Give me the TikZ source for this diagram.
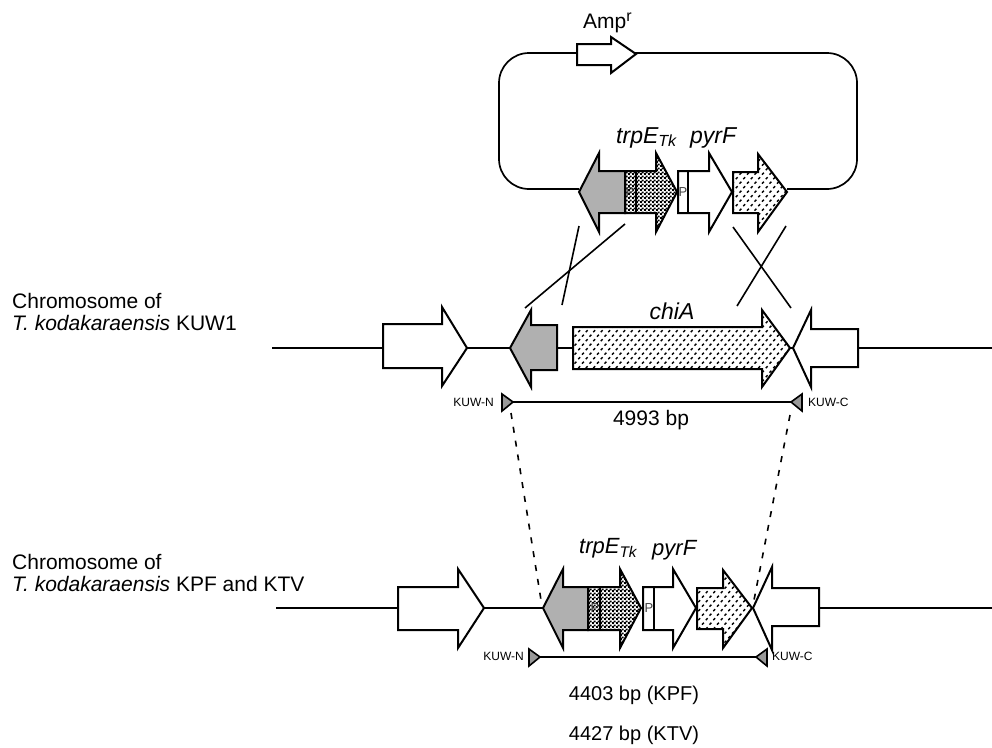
\documentclass[tikz,border=0pt]{standalone}
\usepackage{fontspec}
\setmainfont{Liberation Sans}
\usetikzlibrary{patterns}
\pgfdeclarepatternformonly{dashdots}{\pgfqpoint{-1pt}{-1pt}}{\pgfqpoint{8pt}{9.5pt}}{\pgfqpoint{7.5pt}{9pt}}{%
  \pgfsetlinewidth{1.4pt}
  \pgfpathmoveto{\pgfqpoint{0.8pt}{0.8pt}}\pgfpathlineto{\pgfqpoint{2.6pt}{2.8pt}}
  \pgfpathmoveto{\pgfqpoint{4.5pt}{5.3pt}}\pgfpathlineto{\pgfqpoint{6.3pt}{7.3pt}}
  \pgfusepath{stroke}}
\pgfdeclarepatternformonly{checkers}{\pgfqpoint{0pt}{0pt}}{\pgfqpoint{4pt}{4pt}}{\pgfqpoint{4pt}{4pt}}{%
  \pgfpathrectangle{\pgfqpoint{0pt}{0pt}}{\pgfqpoint{2.3pt}{2.3pt}}
  \pgfpathrectangle{\pgfqpoint{2pt}{2pt}}{\pgfqpoint{2.3pt}{2.3pt}}
  \pgfusepath{fill}}
\definecolor{genegray}{gray}{0.69}
\tikzset{
  gene/.style={draw=black,line width=2pt,fill=white,line join=miter},
  graygene/.style={gene,fill=genegray},
  checkgene/.style={draw=black,line width=2pt,preaction={fill=white},pattern=checkers,pattern color=black},
  dotgene/.style={draw=black,line width=2pt,preaction={fill=white},pattern=dashdots,pattern color=black},
  band/.style={line width=2.4pt},
  chrom/.style={line width=1.7pt},
  cross/.style={line width=1.6pt},
  dashlink/.style={line width=1.6pt,dash pattern=on 6pt off 8pt},
  primer/.style={draw=black,line width=1.6pt,fill=black!40},
  lab/.style={font=\fontsize{21}{24}\selectfont,inner sep=0pt},
  labb/.style={font=\fontsize{20}{24}\selectfont,inner sep=0pt},
  genelab/.style={font=\fontsize{23}{25}\selectfont\itshape,inner sep=0pt},
  genelabb/.style={font=\fontsize{22}{25}\selectfont\itshape,inner sep=0pt},
  smalllab/.style={font=\fontsize{12}{14}\selectfont,inner sep=0pt},
  plab/.style={font=\fontsize{13}{13}\selectfont,inner sep=0pt,text=black!75},
}
\begin{document}
\begin{tikzpicture}[x=1pt,y=-1pt]
\useasboundingbox (0,0) rectangle (992,747);
% plasmid
\draw[line width=1.7pt,rounded corners=30pt] (579,189) -- (499,189) -- (499,53) -- (857,53) -- (857,189) -- (787,189);
\draw[gene] (577,44) -- (611,44) -- (611,37) -- (636,54) -- (611,73) -- (611,65) -- (577,65) -- cycle;
\node[lab,anchor=base west] (amp) at (583,28) {Amp\raisebox{7pt}{\fontsize{16}{16}\selectfont r}};
% top cassette
\draw[checkgene] (625,171) -- (656,171) -- (656,153) -- (677,192) -- (656,232) -- (656,213) -- (625,213) -- cycle;
\draw[graygene] (625,171) -- (599,171) -- (599,153) -- (579,192) -- (599,232) -- (599,213) -- (625,213) -- cycle;
\draw[band] (636,171) -- (636,213);
\node[plab] (p1) at (630,192) {P};
\draw[gene] (678,171) -- (709,171) -- (709,153) -- (732,192) -- (709,232) -- (709,213) -- (678,213) -- cycle;
\draw[gene,line width=1.6pt] (688,171) -- (688,213);
\node[plab] (p2) at (683,192) {P};
\draw[dotgene] (733,172) -- (758,172) -- (758,154) -- (787,192) -- (758,232) -- (758,213) -- (733,213) -- cycle;
\node[genelab,anchor=base west] (trp1) at (616,143) {trpE\textsubscript{Tk}};
\node[genelab,anchor=base west] (pyr1) at (690,143) {pyrF};
% crossover
\coordinate (c1a) at (525,308); \coordinate (c1b) at (625,224);
\coordinate (c2a) at (562,305); \coordinate (c2b) at (579,226);
\coordinate (c3a) at (733,227); \coordinate (c3b) at (791,308);
\coordinate (c4a) at (786,226); \coordinate (c4b) at (737,306);
\draw[cross] (c1a) -- (c1b);
\draw[cross] (c2a) -- (c2b);
\draw[cross] (c3a) -- (c3b);
\draw[cross] (c4a) -- (c4b);
% middle row
\node[lab,anchor=base west] (chr1a) at (12,308) {Chromosome of};
\node[lab,anchor=base west] (chr1b) at (12,330) {\textit{T. kodakaraensis} KUW1};
\coordinate (ml) at (272,348); \coordinate (mr) at (992,348);
\draw[chrom] (ml) -- (mr);
\draw[gene] (383,324) -- (442,324) -- (442,307) -- (467,348) -- (442,386) -- (442,368) -- (383,368) -- cycle;
\draw[graygene] (557,325) -- (531,325) -- (531,310) -- (510,348) -- (531,387) -- (531,370) -- (557,370) -- cycle;
\draw[dotgene] (573,327) -- (762,327) -- (762,310) -- (790,348) -- (762,387) -- (762,369) -- (573,369) -- cycle;
\draw[gene] (858,329) -- (811,329) -- (811,310) -- (793,348) -- (811,387) -- (811,367) -- (858,367) -- cycle;
\node[genelab,anchor=base] (chia) at (672,319) {chiA};
% primers middle
\coordinate (pl1) at (513,402); \coordinate (pr1) at (791,402);
\draw[chrom] (pl1) -- (pr1);
\draw[primer] (502,394) -- (pl1) -- (502,411) -- cycle;
\draw[primer] (802,394) -- (pr1) -- (802,411) -- cycle;
\node[smalllab,anchor=east] (kn1) at (494,402) {KUW-N};
\node[smalllab,anchor=west] (kc1) at (808,402) {KUW-C};
\node[lab,anchor=base] (bp1) at (651,425) {4993 bp};
% dashed links
\coordinate (d1b) at (541,600); \coordinate (d2b) at (754,600);
\draw[dashlink] (511,413) -- (d1b);
\draw[dashlink] (790,415) -- (d2b);
% bottom row
\node[lab,anchor=base west] (chr2a) at (12,569) {Chromosome of};
\node[lab,anchor=base west] (chr2b) at (12,591) {\textit{T. kodakaraensis} KPF and KTV};
\coordinate (bl) at (276,608); \coordinate (br) at (992,608);
\draw[chrom] (bl) -- (br);
\draw[gene] (398,587) -- (458,587) -- (458,569) -- (484,608) -- (458,648) -- (458,630) -- (398,630) -- cycle;
\draw[checkgene] (588,587) -- (620,587) -- (620,569) -- (641,608) -- (620,648) -- (620,630) -- (588,630) -- cycle;
\draw[graygene] (588,587) -- (563,587) -- (563,569) -- (543,608) -- (563,648) -- (563,630) -- (588,630) -- cycle;
\draw[band] (600,587) -- (600,630);
\node[plab] (p3) at (595,608) {P};
\draw[gene] (643,587) -- (673,587) -- (673,569) -- (696,608) -- (673,648) -- (673,630) -- (643,630) -- cycle;
\draw[gene,line width=1.6pt] (654,587) -- (654,630);
\node[plab] (p4) at (649,608) {P};
\draw[dotgene] (697,588) -- (723,588) -- (723,570) -- (752,608) -- (723,648) -- (723,629) -- (697,629) -- cycle;
\draw[gene] (819,588) -- (772,588) -- (772,567) -- (753,608) -- (772,650) -- (772,626) -- (819,626) -- cycle;
\node[genelabb,anchor=base west] (trp2) at (579,553) {trpE\textsubscript{Tk}};
\node[genelabb,anchor=base west] (pyr2) at (652,555) {pyrF};
% primers bottom
\coordinate (pl2) at (540,657); \coordinate (pr2) at (756,657);
\draw[line width=2pt] (pl2) -- (pr2);
\draw[primer] (529,649) -- (pl2) -- (529,666) -- cycle;
\draw[primer] (767,649) -- (pr2) -- (767,666) -- cycle;
\node[smalllab,anchor=east] (kn2) at (524,656) {KUW-N};
\node[smalllab,anchor=west] (kc2) at (772,656) {KUW-C};
\node[labb,anchor=base] (bp2) at (634,700) {4403 bp (KPF)};
\node[labb,anchor=base] (bp3) at (634,740) {4427 bp (KTV)};
\end{tikzpicture}
\end{document}
